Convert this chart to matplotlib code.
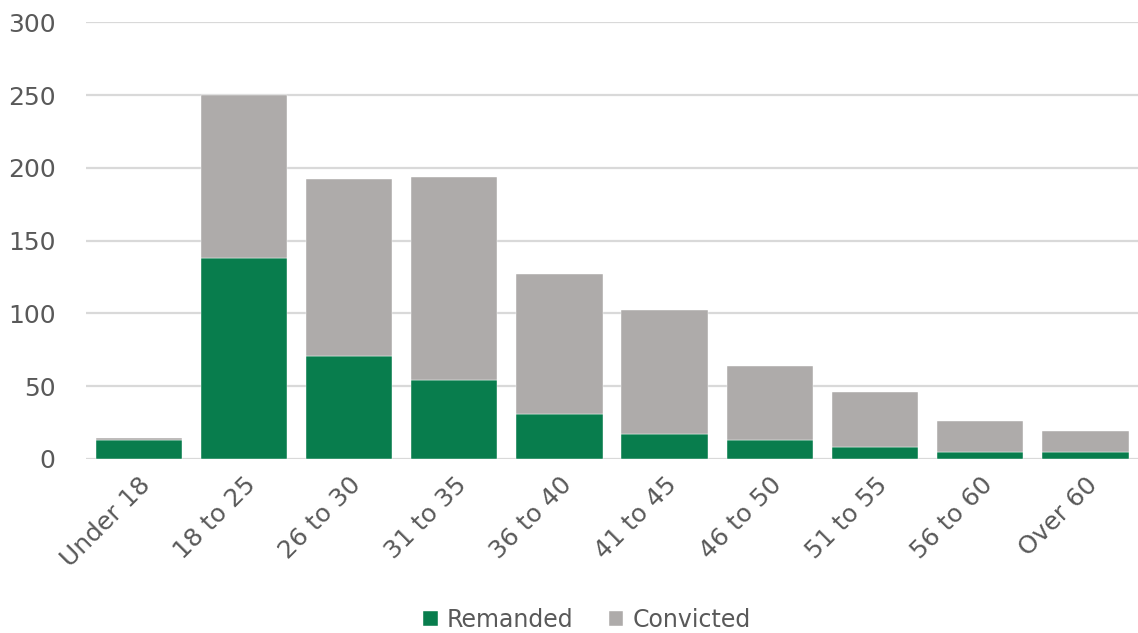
import matplotlib.pyplot as plt
import numpy as np

# age bands and counts
age_bands = ['Under 18', '18 to 25', '26 to 30', '31 to 35', '36 to 40',
             '41 to 45', '46 to 50', '51 to 55', '56 to 60', 'Over 60']
remanded = [13, 138, 71, 54, 31, 17, 13, 8, 5, 5]
convicted = [1.5, 112, 121, 140, 96, 85, 51, 38, 21, 14]

GREEN = '#087d4d'
GREY = '#aeabaa'
TEXT = '#595959'

plt.rcParams['font.family'] = ['DejaVu Sans']

fig = plt.figure(figsize=(11.38, 6.33), dpi=100)
ax = fig.add_axes([0.0756, 0.2749, 0.9244, 0.690])

x = np.arange(len(age_bands))
ax.bar(x, remanded, width=0.82, color=GREEN, edgecolor='white', linewidth=0.3,
       label='Remanded', zorder=3)
ax.bar(x, convicted, width=0.82, bottom=remanded, color=GREY, edgecolor='white',
       linewidth=0.3, label='Convicted', zorder=3)

ax.set_xlim(-0.5, len(age_bands) - 0.5)
ax.set_ylim(0, 300)
ax.set_yticks(range(0, 301, 50))
ax.yaxis.grid(True, color='#d9d9d9', linewidth=1.6, zorder=0)
ax.set_axisbelow(True)

for s in ax.spines.values():
    s.set_visible(False)

ax.tick_params(axis='both', length=0, labelsize=18, labelcolor=TEXT)
ax.tick_params(axis='y', pad=22)
ax.set_xticks(x)
ax.set_xticklabels(age_bands, rotation=45, ha='right', rotation_mode='anchor')
ax.tick_params(axis='x', pad=10)

fig.legend(loc='lower center', bbox_to_anchor=(0.516, -0.032), ncol=2, frameon=False,
           fontsize=17, labelcolor=TEXT, handlelength=0.6, handleheight=0.6,
           handletextpad=0.4, columnspacing=1.5)

fig.savefig('out.png', dpi=100)
